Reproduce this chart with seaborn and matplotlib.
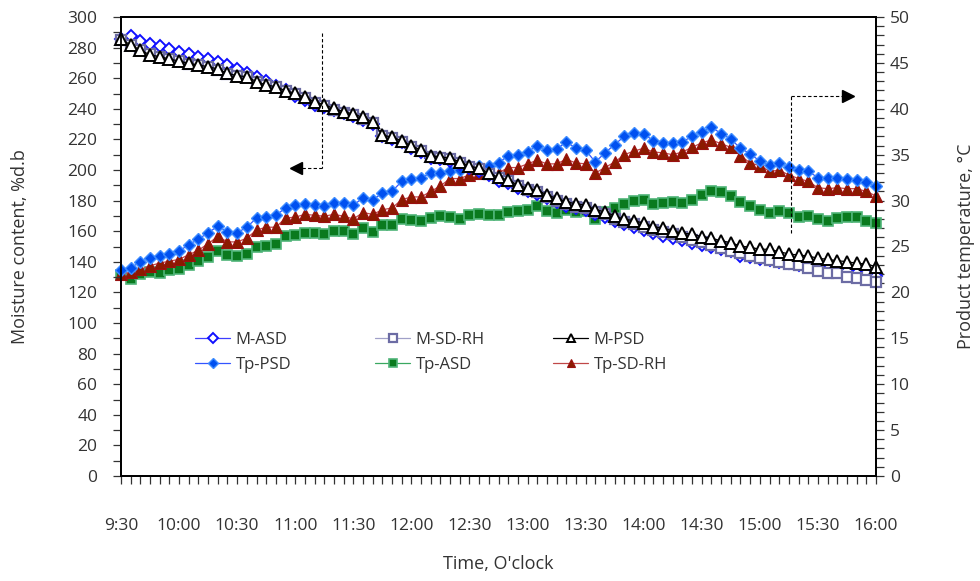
import numpy as np
import pandas as pd
import matplotlib
matplotlib.use("Agg")
import matplotlib.pyplot as plt
from matplotlib.ticker import MultipleLocator
from matplotlib.legend import Legend
import seaborn as sns

# ---------------- data ----------------
minutes = list(range(0, 391, 5))  # minutes after 9:30
tick_labels = ["9:30", "10:00", "10:30", "11:00", "11:30", "12:00", "12:30",
               "13:00", "13:30", "14:00", "14:30", "15:00", "15:30", "16:00"]

m_asd = [285.5, 287.6, 284.5, 282.4, 281.0, 278.9, 277.3, 275.8, 274.1, 272.3,
         270.6, 268.4, 265.8, 263.6, 261.0, 258.2, 254.9, 252.3, 248.4, 245.8,
         242.5, 241.0, 239.0, 237.0, 235.0, 233.0, 230.0, 222.0, 220.0, 218.0,
         214.5, 212.0, 208.0, 207.5, 206.0, 204.0, 201.0, 199.5, 196.5, 193.0,
         191.5, 188.5, 186.0, 184.5, 181.5, 179.0, 176.5, 175.0, 174.0, 171.0,
         169.5, 166.5, 164.5, 163.0, 161.0, 158.5, 157.0, 155.5, 154.0, 152.5,
         151.0, 149.5, 148.5, 147.0, 144.0, 143.0, 142.0, 141.0, 140.0, 139.0,
         138.0, 137.5, 136.5, 135.5, 134.5, 134.0, 133.0, 132.5, 131.0]

m_sdrh = [285.0, 282.0, 278.5, 275.5, 274.0, 272.5, 271.0, 269.5, 268.5, 267.0,
          265.5, 263.0, 261.5, 260.5, 257.5, 255.5, 254.0, 251.5, 249.5, 247.0,
          244.0, 242.0, 239.5, 237.5, 236.0, 233.5, 231.0, 222.5, 221.0, 218.5,
          215.0, 212.5, 208.5, 208.0, 207.0, 204.5, 202.0, 200.5, 197.5, 194.5,
          193.0, 189.5, 187.0, 185.5, 182.5, 180.0, 177.5, 176.0, 175.0, 172.5,
          171.0, 168.0, 166.0, 164.5, 163.0, 161.0, 159.5, 158.0, 156.5, 154.5,
          153.2, 151.0, 148.8, 147.3, 146.0, 143.8, 142.3, 141.2, 140.1, 138.6,
          137.9, 135.7, 134.2, 132.9, 132.5, 130.3, 129.2, 128.1, 127.0]

m_psd = [285.6, 281.7, 278.4, 275.2, 274.1, 272.5, 271.2, 269.7, 268.6, 267.5,
         266.0, 263.2, 261.6, 261.0, 257.7, 255.6, 254.4, 251.8, 250.1, 247.4,
         244.7, 242.5, 240.3, 238.1, 236.6, 234.4, 231.6, 222.9, 221.4, 219.2,
         215.7, 213.1, 209.2, 208.7, 207.6, 205.4, 202.6, 201.1, 198.2, 195.1,
         193.5, 190.2, 188.0, 186.9, 183.7, 181.5, 179.3, 177.8, 177.1, 173.9,
         172.8, 169.9, 167.8, 166.9, 165.2, 163.0, 161.9, 160.3, 158.6, 158.2,
         156.4, 155.3, 153.8, 152.5, 150.3, 149.5, 148.2, 148.2, 146.6, 145.1,
         144.4, 143.8, 142.3, 141.6, 140.7, 140.1, 139.0, 138.6, 136.8]

tp_psd = [22.4, 22.7, 23.3, 23.8, 24.0, 24.2, 24.5, 25.2, 25.8, 26.5,
          27.2, 26.6, 26.5, 27.1, 28.1, 28.2, 28.4, 29.2, 29.5, 29.6,
          29.5, 29.4, 29.7, 29.7, 29.5, 30.3, 30.1, 30.8, 31.0, 32.1,
          32.4, 32.5, 33.0, 33.0, 33.2, 33.3, 33.8, 33.8, 33.8, 34.1,
          34.9, 35.0, 35.3, 36.0, 35.5, 35.6, 36.4, 35.7, 35.5, 34.2,
          35.2, 36.1, 37.0, 37.4, 37.3, 36.5, 36.3, 36.3, 36.4, 37.0,
          37.5, 38.0, 37.3, 36.7, 35.7, 35.1, 34.3, 33.9, 34.1, 33.7,
          33.3, 33.2, 32.5, 32.5, 32.5, 32.4, 32.2, 32.0, 31.6]

tp_asd = [21.9, 21.5, 22.0, 22.2, 22.1, 22.4, 22.6, 23.0, 23.4, 23.9,
          24.5, 24.1, 24.0, 24.2, 25.0, 25.1, 25.3, 26.1, 26.3, 26.5,
          26.5, 26.4, 26.7, 26.7, 26.4, 27.0, 26.6, 27.3, 27.3, 28.0,
          27.9, 27.8, 28.1, 28.3, 28.2, 28.0, 28.4, 28.5, 28.4, 28.4,
          28.8, 28.9, 29.0, 29.4, 28.9, 28.7, 29.0, 28.8, 28.9, 28.0,
          28.8, 29.2, 29.6, 30.0, 30.1, 29.6, 29.7, 29.8, 29.7, 30.1,
          30.6, 31.0, 30.9, 30.5, 29.9, 29.4, 29.0, 28.6, 28.9, 28.6,
          28.2, 28.3, 28.0, 27.8, 28.1, 28.2, 28.2, 27.8, 27.6]

tp_sdrh = [22.0, 22.2, 22.5, 22.9, 23.2, 23.4, 23.6, 24.1, 24.6, 25.3,
           26.1, 25.5, 25.5, 25.9, 26.8, 27.1, 27.1, 28.1, 28.2, 28.5,
           28.4, 28.3, 28.5, 28.3, 28.0, 28.7, 28.5, 29.0, 29.2, 30.1,
           30.4, 30.4, 31.0, 31.6, 32.4, 32.4, 32.8, 33.0, 33.0, 33.0,
           33.6, 33.6, 34.0, 34.4, 34.0, 34.0, 34.5, 34.1, 34.0, 33.0,
           33.6, 34.2, 35.0, 35.4, 35.7, 35.3, 35.2, 35.0, 35.3, 35.8,
           36.3, 36.6, 36.2, 35.8, 34.9, 34.1, 33.8, 33.2, 33.3, 32.8,
           32.4, 32.1, 31.4, 31.3, 31.4, 31.3, 31.3, 31.0, 30.5]

# ---------------- style ----------------
sns.set_theme(style="ticks")
plt.rcParams["font.family"] = ["Open Sans", "DejaVu Sans"]
TXT = "#333333"

W, H = 980, 581
fig = plt.figure(figsize=(W / 100, H / 100), dpi=100)
L, R, T, B = 121, 876, 17, 476
ax = fig.add_axes([L / W, 1 - B / H, (R - L) / W, (B - T) / H])
ax2 = ax.twinx()
ax.set_zorder(ax2.get_zorder() + 1)
ax.patch.set_visible(False)

df = pd.DataFrame({"min": minutes, "M-ASD": m_asd, "M-SD-RH": m_sdrh, "M-PSD": m_psd,
                   "Tp-PSD": tp_psd, "Tp-ASD": tp_asd, "Tp-SD-RH": tp_sdrh})

common = dict(clip_on=False, legend=False, errorbar=None)

# temperature series (right axis)
sns.lineplot(data=df, x="min", y="Tp-ASD", ax=ax2, color="#3aa860", lw=0.9,
             marker="s", markersize=7, markerfacecolor="#0a7a1e",
             markeredgecolor="#4fb478", markeredgewidth=1.2, label="Tp-ASD", **common)
sns.lineplot(data=df, x="min", y="Tp-SD-RH", ax=ax2, color="#c04848", lw=0.9,
             marker="^", markersize=8, markerfacecolor="#8b1a00",
             markeredgecolor="#9b1010", markeredgewidth=0.8, label="Tp-SD-RH", **common)
sns.lineplot(data=df, x="min", y="Tp-PSD", ax=ax2, color="#3355ff", lw=0.9,
             marker="D", markersize=6.5, markerfacecolor="#0050f0",
             markeredgecolor="#3d8cff", markeredgewidth=1.0, label="Tp-PSD", **common)

# moisture series (left axis)
sns.lineplot(data=df, x="min", y="M-ASD", ax=ax, color="#3d3dff", lw=0.9,
             marker="D", markersize=6, markerfacecolor="white",
             markeredgecolor="#1010ff", markeredgewidth=1.4, label="M-ASD", **common)
sns.lineplot(data=df, x="min", y="M-SD-RH", ax=ax, color="#a0a0c8", lw=0.9,
             marker="s", markersize=7, markerfacecolor="white",
             markeredgecolor="#6c6ca4", markeredgewidth=1.6, label="M-SD-RH", **common)
sns.lineplot(data=df, x="min", y="M-PSD", ax=ax, color="black", lw=0.9,
             marker="^", markersize=8, markerfacecolor="white",
             markeredgecolor="black", markeredgewidth=1.4, label="M-PSD", **common)

# axes limits & ticks
ax.set_xlim(0, 390)
ax.set_ylim(0, 300)
ax2.set_ylim(0, 50)
ax.set_xticks(list(range(0, 391, 30)))
ax.set_xticklabels(tick_labels)
ax.xaxis.set_minor_locator(MultipleLocator(5))
ax.yaxis.set_major_locator(MultipleLocator(20))
ax.yaxis.set_minor_locator(MultipleLocator(10))
ax2.yaxis.set_major_locator(MultipleLocator(5))
ax2.yaxis.set_minor_locator(MultipleLocator(1))

ax.tick_params(axis="x", which="both", direction="out", length=6, width=0.9,
               color="#333333", labelsize=12.5, labelcolor=TXT, pad=24)
ax.tick_params(axis="y", which="both", direction="out", length=6, width=0.9,
               color="#333333", labelsize=12.5, labelcolor=TXT, pad=11)
ax2.tick_params(axis="y", which="both", direction="out", length=6, width=0.9,
                color="#333333", labelsize=12.5, labelcolor=TXT, pad=4)
ax.tick_params(axis="x", which="minor", labelbottom=False)

for a in (ax, ax2):
    for s in a.spines.values():
        s.set_visible(True)
        s.set_color("black")
        s.set_linewidth(1.3)

ax.set_xlabel("Time, O'clock", fontsize=13, color=TXT)
ax.set_ylabel("Moisture content, %d.b", fontsize=13, color=TXT)
ax2.set_ylabel("Product temperature, \u00b0C", fontsize=13, color=TXT)
ax.xaxis.set_label_coords(0.5, -0.173)
ax.yaxis.set_label_coords(-0.122, 0.5)
ax2.yaxis.set_label_coords(1.107, 0.5)

# arrows (annotations)
ax.plot([103.8, 103.8], [289.5, 201.3], ls=(0, (3, 2)), color="black", lw=0.8)
ax.plot([93.5, 103.8], [201.3, 201.3], ls=(0, (3, 2)), color="black", lw=0.8)
ax.plot([90.5], [201.3], marker="<", markersize=9, color="black", clip_on=False)
ax.plot([346.1, 346.1], [158.8, 248.4], ls=(0, (3, 2)), color="black", lw=0.8)
ax.plot([346.1, 372.5], [248.4, 248.4], ls=(0, (3, 2)), color="black", lw=0.8)
ax.plot([375.5], [248.4], marker=">", markersize=9, color="black", clip_on=False)

# legends (three columns of two entries)
h1, l1 = ax.get_legend_handles_labels()
h2, l2 = ax2.get_legend_handles_labels()
hd = dict(zip(l1 + l2, h1 + h2))
columns = [("M-ASD", "Tp-PSD"), ("M-SD-RH", "Tp-ASD"), ("M-PSD", "Tp-SD-RH")]
col_x = [195, 375, 553]
for (a_, b_), cx in zip(columns, col_x):
    leg = Legend(ax, [hd[a_], hd[b_]], [a_, b_], loc="upper left",
                 bbox_to_anchor=(cx / W, 1 - 332 / H), bbox_transform=fig.transFigure,
                 frameon=False, fontsize=12, handlelength=2.1, handletextpad=0.35,
                 borderpad=0, borderaxespad=0, labelspacing=0.55, labelcolor=TXT,
                 markerscale=0.8)
    ax.add_artist(leg)

fig.savefig("out.png", dpi=100)
